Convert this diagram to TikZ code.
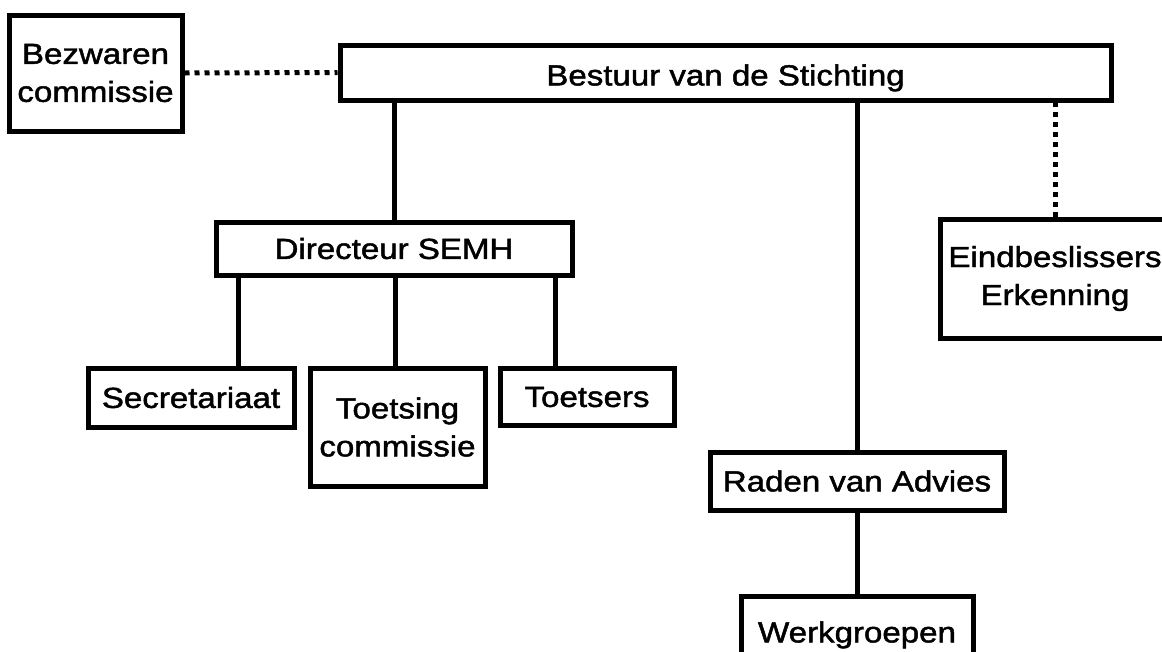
\documentclass[tikz,border=0pt]{standalone}
\usepackage{fontspec}
\setmainfont[FakeStretch=1.14,FakeBold=1.6]{Liberation Sans}
\begin{document}
\begin{tikzpicture}[x=1pt,y=-1pt,
  box/.style={draw=black,line width=5pt,fill=white,inner sep=0pt,align=center,
    font=\fontsize{29}{38}\selectfont},
  one/.style={text height=20.8pt,text depth=0pt},
  link/.style={line width=5pt,draw=black},
  dotlink/.style={line width=5pt,draw=black,dash pattern=on 5pt off 5pt}]
\useasboundingbox (0,0) rectangle (1162,651);
\clip (0,0) rectangle (1162,651);
\node[box,minimum width=173pt,minimum height=116pt] (bez) at (95.5,73) {Bezwaren\\commissie};
\node[box,one,minimum width=771pt,minimum height=55pt] (bst) at (725.5,72.5) {\raisebox{-2.5pt}{Bestuur van de Stichting}};
\node[box,one,minimum width=356pt,minimum height=53pt] (dir) at (394,248.5) {Directeur SEMH};
\node[box,one,minimum width=206pt,minimum height=59pt] (sec) at (191,397.5) {Secretariaat};
\node[box,minimum width=175pt,minimum height=118pt] (toe) at (397.5,427) {Toetsing\\commissie};
\node[box,one,minimum width=174pt,minimum height=57pt] (tsr) at (587,396.5) {Toetsers};
\node[box,minimum width=230pt,minimum height=119pt] (ein) at (1055,278.5) {Eindbeslissers\\Erkenning};
\node[box,one,minimum width=294pt,minimum height=58pt] (rad) at (857,481) {Raden van Advies};
\node[box,one,minimum width=232pt,minimum height=72pt] (wer) at (857,632) {Werkgroepen};
\coordinate (xs) at (238,0);
\coordinate (xt) at (395,0);
\coordinate (xr) at (555,0);
\draw[dotlink] (bez.east) -- (bst.west);
\draw[dotlink] (ein.north) -- (ein.north |- bst.south);
\draw[link] (dir.north) -- (dir.north |- bst.south);
\draw[link] (rad.north) -- (rad.north |- bst.south);
\draw[link] (rad.south) -- (wer.north);
\draw[link] (dir.south -| xs) -- (sec.north -| xs);
\draw[link] (dir.south -| xt) -- (toe.north -| xt);
\draw[link] (dir.south -| xr) -- (tsr.north -| xr);
\end{tikzpicture}
\end{document}
